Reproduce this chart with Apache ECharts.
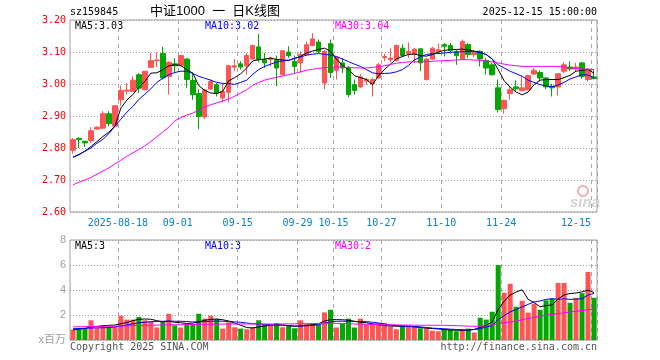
<!DOCTYPE html>
<html>
<head>
<meta charset="utf-8">
<script src="https://cdn.jsdelivr.net/npm/echarts@6/dist/echarts.min.js"></script>
<style>
html,body{margin:0;padding:0;background:#fff;}
#c{width:660px;height:360px;}
</style>
</head>
<body>
<div id="c"></div>
<script>
// ---------- DATA ----------
const dates = ['2025-08-06','2025-08-07','2025-08-08','2025-08-11','2025-08-12','2025-08-13','2025-08-14','2025-08-15','2025-08-18','2025-08-19',
'2025-08-20','2025-08-21','2025-08-22','2025-08-25','2025-08-26','2025-08-27','2025-08-28','2025-08-29','2025-09-01','2025-09-02',
'2025-09-03','2025-09-04','2025-09-05','2025-09-08','2025-09-09','2025-09-10','2025-09-11','2025-09-12','2025-09-15','2025-09-16',
'2025-09-17','2025-09-18','2025-09-19','2025-09-22','2025-09-23','2025-09-24','2025-09-25','2025-09-26','2025-09-29','2025-09-30',
'2025-10-09','2025-10-10','2025-10-13','2025-10-14','2025-10-15','2025-10-16','2025-10-17','2025-10-20','2025-10-21','2025-10-22',
'2025-10-23','2025-10-24','2025-10-27','2025-10-28','2025-10-29','2025-10-30','2025-10-31','2025-11-03','2025-11-04','2025-11-05',
'2025-11-06','2025-11-07','2025-11-10','2025-11-11','2025-11-12','2025-11-13','2025-11-14','2025-11-17','2025-11-18','2025-11-19',
'2025-11-20','2025-11-21','2025-11-24','2025-11-25','2025-11-26','2025-11-27','2025-11-28','2025-12-01','2025-12-02','2025-12-03',
'2025-12-04','2025-12-05','2025-12-08','2025-12-09','2025-12-10','2025-12-11','2025-12-12','2025-12-15'];

const openP = [2.793,2.830,2.821,2.823,2.859,2.862,2.907,2.868,2.951,2.978,
2.977,3.029,2.982,3.052,3.073,3.095,3.024,3.063,3.057,3.078,
3.011,2.970,2.897,2.984,2.998,2.956,2.974,3.053,3.063,3.057,
3.078,3.116,3.076,3.076,3.076,3.029,3.100,3.071,3.066,3.092,
3.120,3.131,3.003,3.126,3.043,3.066,3.050,2.998,2.991,3.009,
3.001,3.019,3.082,3.076,3.074,3.112,3.095,3.092,3.110,3.014,
3.078,3.102,3.123,3.120,3.101,3.078,3.123,3.092,3.102,3.074,
3.060,2.988,2.923,2.970,2.991,2.979,2.982,3.031,3.036,3.019,
2.993,2.991,3.040,3.053,3.047,3.066,3.014,3.022];

const closeP = [2.826,2.826,2.816,2.854,2.865,2.907,2.876,2.932,2.980,2.981,
3.012,2.987,3.040,3.073,3.075,3.019,3.068,3.057,3.089,3.014,
2.967,2.899,2.982,3.008,2.972,2.977,3.057,3.057,3.053,3.089,
3.120,3.076,3.066,3.081,3.050,3.104,3.089,3.055,3.092,3.123,
3.141,3.102,3.102,3.036,3.084,3.050,2.967,2.980,3.022,3.014,
3.014,3.060,3.086,3.081,3.120,3.089,3.102,3.109,3.066,3.078,
3.112,3.107,3.118,3.105,3.089,3.133,3.092,3.097,3.078,3.050,
3.029,2.920,2.949,2.982,2.985,2.988,3.026,3.043,3.019,2.991,
2.988,3.032,3.060,3.047,3.053,3.024,3.047,3.017];

const lowP = [2.782,2.800,2.803,2.816,2.857,2.859,2.868,2.866,2.932,2.967,
2.975,2.972,2.980,3.050,3.053,3.014,2.967,3.034,3.055,2.988,
2.951,2.859,2.891,2.982,2.961,2.943,2.943,3.040,3.045,3.029,
3.076,3.068,3.050,3.055,2.993,3.026,3.081,3.034,3.036,3.089,
3.118,3.097,2.984,3.019,3.014,3.034,2.959,2.967,2.988,2.998,
2.961,3.016,3.071,3.068,3.071,3.084,3.081,3.066,3.040,3.011,
3.076,3.097,3.086,3.095,3.060,3.076,3.081,3.084,3.055,3.029,
3.026,2.911,2.907,2.951,2.977,2.977,2.980,3.029,3.008,2.984,
2.961,2.964,3.034,3.040,3.040,3.016,3.008,3.014];

const highP = [2.831,2.834,2.823,2.865,2.868,2.915,2.915,2.932,2.995,3.003,
3.024,3.034,3.040,3.097,3.099,3.116,3.071,3.081,3.089,3.081,
3.036,2.984,2.984,3.014,3.003,3.003,3.060,3.078,3.071,3.097,
3.123,3.157,3.097,3.084,3.089,3.104,3.118,3.089,3.102,3.133,
3.159,3.139,3.107,3.139,3.086,3.081,3.057,3.014,3.032,3.019,
3.019,3.066,3.095,3.112,3.123,3.123,3.130,3.112,3.112,3.081,
3.116,3.126,3.128,3.128,3.107,3.139,3.128,3.105,3.105,3.081,
3.066,3.014,2.951,2.991,3.011,3.024,3.029,3.050,3.043,3.022,
3.001,3.034,3.068,3.071,3.066,3.069,3.050,3.045];

const ma5 = [2.771,2.78,2.79,2.805,2.82,2.836,2.85,2.868,2.925,2.95,
2.967,2.99,3.008,3.034,3.035,3.045,3.057,3.06,3.058,3.045,
3.034,2.995,2.98,2.972,2.97,2.977,3.01,3.02,3.032,3.05,
3.072,3.076,3.078,3.081,3.077,3.075,3.074,3.08,3.086,3.097,
3.103,3.108,3.112,3.102,3.078,3.058,3.045,3.026,3.02,3.014,
2.998,3.025,3.045,3.062,3.078,3.086,3.092,3.094,3.089,3.087,
3.092,3.1,3.105,3.107,3.108,3.109,3.106,3.103,3.099,3.092,
3.078,3.045,3.01,2.99,2.975,2.966,2.975,2.998,3.012,3.014,
3.014,3.014,3.02,3.027,3.04,3.043,3.045,3.034];

const ma10 = [2.771,2.779,2.79,2.80,2.815,2.827,2.845,2.868,2.89,2.912,
2.93,2.952,2.968,2.985,3.005,3.018,3.029,3.036,3.04,3.04,
3.033,3.024,3.018,3.012,3.005,3.002,3.001,2.999,3.005,3.012,
3.03,3.045,3.055,3.062,3.069,3.072,3.074,3.08,3.085,3.09,
3.093,3.095,3.093,3.09,3.086,3.078,3.07,3.062,3.055,3.045,
3.035,3.032,3.033,3.034,3.038,3.045,3.058,3.075,3.085,3.092,
3.095,3.095,3.097,3.099,3.1,3.101,3.101,3.101,3.098,3.092,
3.078,3.06,3.05,3.04,3.032,3.024,3.012,3.005,2.998,2.994,
2.991,2.997,3.005,3.016,3.022,3.029,3.028,3.02];

const ma30 = [2.685,2.693,2.70,2.708,2.718,2.728,2.738,2.75,2.762,2.774,
2.785,2.795,2.807,2.82,2.835,2.85,2.865,2.885,2.895,2.903,
2.909,2.918,2.928,2.935,2.941,2.947,2.953,2.962,2.972,2.982,
2.996,3.005,3.012,3.017,3.021,3.025,3.029,3.033,3.038,3.043,
3.046,3.049,3.051,3.052,3.053,3.053,3.052,3.051,3.05,3.05,
3.052,3.054,3.057,3.061,3.065,3.067,3.069,3.069,3.069,3.07,
3.071,3.072,3.073,3.074,3.075,3.076,3.076,3.075,3.074,3.072,
3.069,3.066,3.062,3.059,3.057,3.055,3.055,3.055,3.055,3.055,
3.055,3.055,3.053,3.05,3.049,3.047,3.046,3.045];

const volume = [0.83,0.94,0.94,1.58,0.94,1.15,1.05,1.1,1.95,1.63,
1.63,1.84,1.58,1.5,1.0,1.5,2.1,1.18,1.0,1.28,
1.28,2.1,1.71,1.95,1.68,0.91,1.42,1.02,0.91,0.86,
1.02,1.58,1.23,1.15,1.34,1.02,1.15,0.94,1.58,1.26,
1.28,1.2,2.21,2.42,1.0,1.28,1.71,1.0,1.71,1.26,
1.26,1.36,1.36,1.07,0.86,1.15,1.15,1.12,0.94,0.94,
0.75,0.7,0.83,0.83,0.7,0.83,0.91,0.6,1.78,1.63,
2.26,6.0,3.78,4.5,2.66,3.14,2.19,2.9,2.42,3.17,
3.32,4.57,4.57,2.98,3.38,3.75,5.44,3.38];

const volMa5 = [0.8,0.88,0.92,1.05,1.08,1.15,1.17,1.2,1.3,1.4,
1.55,1.65,1.68,1.66,1.55,1.45,1.5,1.42,1.38,1.32,
1.35,1.45,1.58,1.65,1.68,1.62,1.52,1.35,1.18,1.0,
0.96,1.05,1.12,1.18,1.22,1.2,1.15,1.1,1.12,1.18,
1.22,1.3,1.52,1.63,1.63,1.62,1.58,1.5,1.42,1.38,
1.3,1.22,1.15,1.12,1.1,1.1,1.08,1.05,1.0,0.95,
0.92,0.88,0.84,0.8,0.78,0.78,0.78,0.85,1.0,1.18,
1.45,2.45,3.09,3.6,3.84,4.02,3.25,3.0,2.66,2.76,
2.8,3.28,3.61,3.72,3.76,3.85,4.0,3.79];

const volMa10 = [0.9,0.92,0.94,0.96,0.97,0.98,1.0,1.05,1.12,1.2,
1.3,1.38,1.42,1.46,1.48,1.5,1.52,1.5,1.5,1.48,
1.44,1.45,1.48,1.5,1.52,1.5,1.48,1.45,1.42,1.36,
1.3,1.28,1.25,1.22,1.2,1.18,1.15,1.12,1.12,1.15,
1.16,1.22,1.35,1.45,1.5,1.5,1.5,1.48,1.47,1.47,
1.42,1.36,1.28,1.2,1.15,1.12,1.1,1.08,1.05,1.0,
0.95,0.92,0.9,0.87,0.84,0.82,0.8,0.84,0.9,1.05,
1.15,1.64,1.95,2.25,2.45,2.65,2.85,3.05,3.12,3.25,
3.3,3.25,3.3,3.25,3.27,3.3,3.6,3.72];

const volMa30 = [1.05,1.06,1.07,1.08,1.09,1.1,1.1,1.11,1.12,1.13,
1.15,1.16,1.17,1.18,1.19,1.2,1.21,1.22,1.22,1.23,
1.24,1.25,1.26,1.27,1.27,1.28,1.28,1.28,1.28,1.28,
1.28,1.28,1.28,1.28,1.28,1.29,1.29,1.3,1.3,1.31,
1.32,1.32,1.33,1.34,1.33,1.32,1.3,1.28,1.27,1.26,
1.25,1.24,1.23,1.22,1.21,1.2,1.2,1.19,1.18,1.18,
1.18,1.18,1.17,1.16,1.15,1.13,1.11,1.1,1.1,1.13,
1.2,1.31,1.38,1.45,1.52,1.62,1.72,1.82,1.9,1.98,
2.05,2.12,2.18,2.24,2.3,2.36,2.42,2.48];

const tickDates = ['2025-08-18','2025-09-01','2025-09-15','2025-09-29','2025-10-15','2025-10-27','2025-11-10','2025-11-24','2025-12-15'];
const tickLabels = ['2025-08-18','09-01','09-15','09-29','10-15','10-27','11-10','11-24','12-15'];
const priceTicks = [2.6, 2.7, 2.8, 2.9, 3.0, 3.1, 3.2];
const volTicks = [0, 2, 4, 6, 8];

const legendMain = ['MA5:3.03', 'MA10:3.02', 'MA30:3.04'];
const legendVol = ['MA5:3', 'MA10:3', 'MA30:2'];

// ---------- CHART ----------
const UP = '#ff5555', DOWN = '#00a800';
const MONO = '"DejaVu Sans Mono", "Liberation Mono", monospace';
const chart = echarts.init(document.getElementById('c'), null, {renderer: 'canvas'});
const tickIdx = new Set(tickDates.map(d => dates.indexOf(d)));
const lastTick = dates.indexOf(tickDates[tickDates.length - 1]);

const kData = dates.map((d, i) => [openP[i], closeP[i], lowP[i], highP[i]]);
const volData = volume.map((v, i) => ({
  value: v,
  itemStyle: {color: closeP[i] >= openP[i] ? UP : DOWN}
}));

const gridL = 70, gridR = 63;
const vDash = {color: '#a8a8a8', width: 1, type: [4, 4]};
const hDot = {color: '#a0a0a0', width: 1, type: [1, 2]};

function lineSeries(data, color, xi, yi) {
  return {type: 'line', data: data, xAxisIndex: xi, yAxisIndex: yi, symbol: 'none', smooth: false,
    lineStyle: {color: color, width: 1}, itemStyle: {color: color}, z: 5, silent: true};
}

const option = {
  animation: false,
  backgroundColor: '#ffffff',
  grid: [
    {left: gridL, right: gridR, top: 20, height: 192, show: true, borderColor: '#a0a0a0', borderWidth: 1, containLabel: false},
    {left: gridL, right: gridR, top: 240, height: 100, show: true, borderColor: '#a0a0a0', borderWidth: 1, containLabel: false}
  ],
  xAxis: [
    {type: 'category', gridIndex: 0, data: dates, boundaryGap: true,
      axisLine: {show: false}, axisTick: {show: false},
      axisLabel: {
        interval: (i) => tickIdx.has(i), margin: 6,
        formatter: (v, i) => {
          const k = tickDates.indexOf(v);
          return (dates.indexOf(v) === lastTick ? '{b|' : '{a|') + tickLabels[k] + '}';
        },
        rich: {
          a: {color: '#0a80d0', fontFamily: MONO, fontSize: 10, padding: [0, 6, 0, 0]},
          b: {color: '#0a80d0', fontFamily: MONO, fontSize: 10, padding: [0, 36, 0, 0]}
        }
      },
      splitLine: {show: true, interval: (i) => tickIdx.has(i), lineStyle: vDash}
    },
    {type: 'category', gridIndex: 1, data: dates, boundaryGap: true,
      axisLine: {show: false}, axisTick: {show: false}, axisLabel: {show: false},
      splitLine: {show: true, interval: (i) => tickIdx.has(i), lineStyle: vDash}
    }
  ],
  yAxis: [
    {type: 'value', gridIndex: 0, min: priceTicks[0], max: priceTicks[priceTicks.length - 1], interval: 0.1,
      axisLine: {show: false}, axisTick: {show: false},
      axisLabel: {color: '#ff0000', fontFamily: MONO, fontSize: 10, margin: 4, formatter: v => v.toFixed(2)},
      splitLine: {show: true, lineStyle: hDot}
    },
    {type: 'value', gridIndex: 1, min: volTicks[0], max: volTicks[volTicks.length - 1], interval: 2,
      axisLine: {show: false}, axisTick: {show: false},
      axisLabel: {color: '#a0a0a0', fontFamily: '"Liberation Sans", "Noto Sans CJK SC", sans-serif', fontSize: 11, margin: 4,
        formatter: v => v === 0 ? 'x百万' : String(v)},
      splitLine: {show: true, lineStyle: hDot}
    }
  ],
  series: [
    {type: 'candlestick', data: kData, xAxisIndex: 0, yAxisIndex: 0, barWidth: 5,
      itemStyle: {color: UP, color0: DOWN, borderColor: UP, borderColor0: DOWN, borderWidth: 1}, z: 3},
    lineSeries(ma5, '#000000', 0, 0),
    lineSeries(ma10, '#0000ff', 0, 0),
    lineSeries(ma30, '#ff00ff', 0, 0),
    {type: 'bar', data: volData, xAxisIndex: 1, yAxisIndex: 1, barWidth: 5, z: 3},
    lineSeries(volMa5, '#000000', 1, 1),
    lineSeries(volMa10, '#0000ff', 1, 1),
    lineSeries(volMa30, '#ff00ff', 1, 1)
  ],
  graphic: [
    {type: 'text', left: 70, top: 7, style: {text: 'sz159845', font: '10px ' + MONO, fill: '#000'}},
    {type: 'text', left: 150, top: 5, style: {text: '中证1000  一  日K线图', font: '13px "Liberation Sans", "Noto Sans CJK SC", sans-serif', fill: '#000'}},
    {type: 'text', right: 63, top: 7, style: {text: '2025-12-15 15:00:00', font: '10px ' + MONO, fill: '#000'}},
    {type: 'text', left: 75, top: 21, style: {text: legendMain[0], font: '10px ' + MONO, fill: '#000000'}},
    {type: 'text', left: 205, top: 21, style: {text: legendMain[1], font: '10px ' + MONO, fill: '#0000ff'}},
    {type: 'text', left: 335, top: 21, style: {text: legendMain[2], font: '10px ' + MONO, fill: '#ff00ff'}},
    {type: 'text', left: 75, top: 241, style: {text: legendVol[0], font: '10px ' + MONO, fill: '#000000'}},
    {type: 'text', left: 205, top: 241, style: {text: legendVol[1], font: '10px ' + MONO, fill: '#0000ff'}},
    {type: 'text', left: 335, top: 241, style: {text: legendVol[2], font: '10px ' + MONO, fill: '#ff00ff'}},
    {type: 'text', left: 70, top: 342, style: {text: 'Copyright 2025 SINA.COM', font: '10px ' + MONO, fill: '#555555'}},
    {type: 'text', right: 63, top: 342, style: {text: 'http://finance.sina.com.cn', font: '10px ' + MONO, fill: '#555555'}},
    {type: 'circle', shape: {cx: 583, cy: 191, r: 5}, style: {fill: 'none', stroke: '#f3b0b0', lineWidth: 2}},
    {type: 'text', left: 570, top: 195, style: {text: 'sina', font: 'italic bold 15px "Liberation Sans", sans-serif', fill: '#d4d4d4'}}
  ]
};
chart.setOption(option);
</script>
</body>
</html>
